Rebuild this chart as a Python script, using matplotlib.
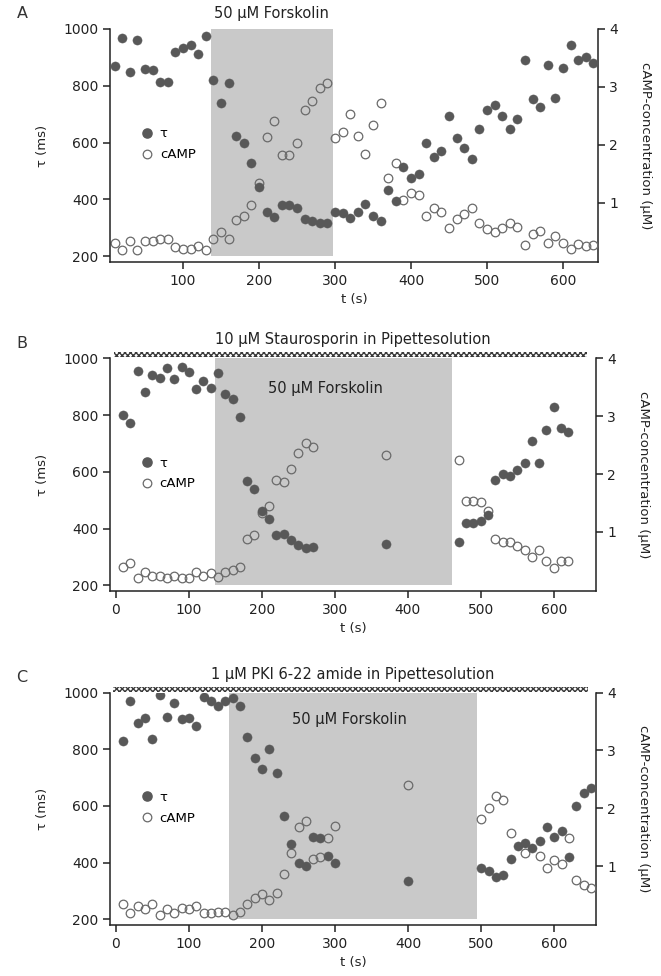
import numpy as np
import matplotlib
matplotlib.use("Agg")
import matplotlib.pyplot as plt
from matplotlib.patches import Rectangle
from matplotlib.lines import Line2D

plt.rcParams['font.family'] = ['DejaVu Sans']

# ---------------- data ----------------
# Panel A
t_A = [10, 20, 30, 40, 50, 60, 70, 80, 90, 100, 110, 120, 130, 140, 150, 160, 170, 180, 190, 200,
       210, 220, 230, 240, 250, 260, 270, 280, 290, 300, 310, 320, 330, 340, 350, 360, 370, 380, 390, 400,
       410, 420, 430, 440, 450, 460, 470, 480, 490, 500, 510, 520, 530, 540, 550, 560, 570, 580, 590, 600,
       610, 620, 630, 640]
tau_A = [868, 968, 848, 962, 860, 855, 815, 815, 919, 933, 945, 912, 974, 819, 739, 809, 625, 600, 530, 443,
         357, 340, 381, 381, 370, 330, 325, 316, 316, 357, 354, 333, 357, 384, 341, 325, 435, 394, 513, 476,
         488, 600, 548, 571, 695, 615, 582, 542, 648, 715, 733, 692, 648, 684, 892, 754, 725, 872, 756, 862,
         945, 892, 901, 882]
camp_A = [0.30, 0.18, 0.34, 0.18, 0.34, 0.34, 0.38, 0.38, 0.23, 0.20, 0.20, 0.26, 0.18, 0.38, 0.49, 0.38, 0.71, 0.78, 0.97, 1.34,
          2.14, 2.41, 1.82, 1.82, 2.03, 2.61, 2.76, 2.99, 3.06, 2.12, 2.23, 2.53, 2.15, 1.85, 2.34, 2.72, 1.43, 1.68, 1.05, 1.17,
          1.13, 0.78, 0.91, 0.84, 0.56, 0.72, 0.81, 0.91, 0.66, 0.55, 0.49, 0.56, 0.66, 0.59, 0.27, 0.46, 0.51, 0.30, 0.43, 0.31,
          0.20, 0.29, 0.26, 0.27]

# Panel B
t_B = [10, 20, 30, 40, 50, 60, 70, 80, 90, 100, 110, 120, 130, 140, 150, 160, 170, 180, 190, 200,
       210, 220, 230, 240, 250, 260, 270, 370, 470, 480, 490, 500, 510, 520, 530, 540, 550, 560, 570, 580,
       590, 600, 610, 620]
tau_B = [800, 771, 956, 880, 941, 929, 967, 927, 971, 953, 891, 921, 896, 949, 874, 856, 794, 567, 541, 462,
         432, 376, 382, 361, 341, 332, 335, 347, 353, 418, 418, 426, 449, 571, 592, 585, 608, 632, 709, 632,
         747, 829, 756, 741]
camp_B = [0.40, 0.46, 0.20, 0.30, 0.23, 0.24, 0.20, 0.24, 0.20, 0.20, 0.30, 0.23, 0.29, 0.22, 0.30, 0.35, 0.40, 0.88, 0.95, 1.33,
          1.45, 1.89, 1.86, 2.09, 2.36, 2.53, 2.46, 2.33, 2.24, 1.54, 1.54, 1.52, 1.37, 0.87, 0.82, 0.82, 0.76, 0.69, 0.56, 0.69,
          0.49, 0.38, 0.49, 0.49]

# Panel C
t_C = [10, 20, 30, 40, 50, 60, 70, 80, 90, 100, 110, 120, 130, 140, 150, 160, 170, 180, 190, 200,
       210, 220, 230, 240, 250, 260, 270, 280, 290, 300, 400, 500, 510, 520, 530, 540, 550, 560, 570, 580,
       590, 600, 610, 620, 630, 640, 650]
tau_C = [831, 971, 892, 912, 836, 992, 913, 965, 906, 912, 882, 984, 971, 953, 971, 980, 954, 845, 771, 731,
         800, 715, 565, 466, 400, 388, 489, 486, 424, 400, 335, 380, 372, 351, 356, 413, 459, 468, 453, 476,
         527, 489, 513, 421, 601, 647, 665]
camp_C = [0.35, 0.19, 0.30, 0.26, 0.34, 0.16, 0.25, 0.19, 0.27, 0.25, 0.30, 0.18, 0.18, 0.20, 0.20, 0.16, 0.20, 0.34, 0.45, 0.51,
          0.41, 0.53, 0.86, 1.22, 1.67, 1.78, 1.13, 1.16, 1.48, 1.69, 2.40, 1.82, 2.01, 2.21, 2.14, 1.57, np.nan, 1.23, np.nan, 1.17,
          0.97, 1.11, 1.03, 1.48, 0.75, 0.67, 0.62]

# stimulus periods (Forskolin) and pipette-solution bars
forsk_A = [137, 297]
forsk_B = [136, 460]
forsk_C = [155, 494]
pip_B = [-2, 646]
pip_C = [-4, 646]

titles = ["50 \u03bcM Forskolin",
          "10 \u03bcM Staurosporin in Pipettesolution",
          "1 \u03bcM PKI 6-22 amide in Pipettesolution"]
forsk_label = "50 \u03bcM Forskolin"
letters = ["A", "B", "C"]

# ---------------- style ----------------
FILL = '#585858'
OPEN = '#6a6a6a'
SHADE = '#c9c9c9'
AXC = '#222222'
FS = 10

fig = plt.figure(figsize=(6.61, 9.76), dpi=100)

positions = [[0.1664, 0.7316, 0.7383, 0.2387],
             [0.1664, 0.3945, 0.7353, 0.2384],
             [0.1664, 0.0523, 0.7353, 0.2380]]
xlims = [(4, 646), (-8, 658), (-8, 657)]
ylim_tau = (180, 1000)
ylim_camp = (-0.02, 4.0)
TITLE_Y = 1.065

panels = [(t_A, tau_A, camp_A, forsk_A, None),
          (t_B, tau_B, camp_B, forsk_B, pip_B),
          (t_C, tau_C, camp_C, forsk_C, pip_C)]

for i, (t, tau, camp, forsk, pip) in enumerate(panels):
    ax = fig.add_axes(positions[i])
    ax2 = ax.twinx()
    ax.set_zorder(2)
    ax.patch.set_visible(False)
    ax2.set_zorder(1)

    ax.set_xlim(*xlims[i])
    ax.set_ylim(*ylim_tau)
    ax2.set_ylim(*ylim_camp)

    # shaded Forskolin period (from 200 ms to top)
    ymin_frac = (200 - ylim_tau[0]) / (ylim_tau[1] - ylim_tau[0])
    ax2.axvspan(forsk[0], forsk[1], ymin=ymin_frac, ymax=1.0, facecolor=SHADE,
                edgecolor='none', zorder=0)

    # data
    ax2.plot(t, camp, linestyle='none', marker='o', markersize=6.2,
             markerfacecolor='none', markeredgecolor=OPEN, markeredgewidth=0.9, zorder=3)
    ax.plot(t, tau, linestyle='none', marker='o', markersize=6.6,
            markerfacecolor=FILL, markeredgecolor=FILL, markeredgewidth=0.3, zorder=4)

    # spines
    for s in ['top', 'right']:
        ax.spines[s].set_visible(False)
    for s in ['top', 'left', 'bottom']:
        ax2.spines[s].set_visible(False)
    for s in ['left', 'bottom']:
        ax.spines[s].set_color(AXC)
        ax.spines[s].set_linewidth(1.1)
    ax2.spines['right'].set_color(AXC)
    ax2.spines['right'].set_linewidth(1.1)

    ax.set_yticks([200, 400, 600, 800, 1000])
    ax2.set_yticks([1, 2, 3, 4])
    ax.set_xticks([0, 100, 200, 300, 400, 500, 600])
    ax.tick_params(axis='both', direction='out', length=5, width=1.1, color=AXC,
                   labelsize=FS, colors='#222222')
    ax2.tick_params(axis='y', direction='out', length=5, width=1.1, color=AXC,
                    labelsize=FS, colors='#222222', pad=3)
    ax.set_xlim(*xlims[i])

    ax.set_ylabel("\u03c4 (ms)", fontsize=9.5, color='#222222')
    ax.yaxis.set_label_coords(-0.125, 0.5)
    ax2.set_ylabel("cAMP-concentration (\u03bcM)", fontsize=9.5, rotation=-90,
                   va='center', color='#222222')
    ax2.yaxis.set_label_coords(1.098, 0.5)
    ax.set_xlabel("t (s)", fontsize=9.5, color='#222222')
    ax.xaxis.set_label_coords(0.5, -0.135)

    # legend
    h1 = Line2D([], [], linestyle='none', marker='o', markersize=6.6,
                markerfacecolor=FILL, markeredgecolor=FILL)
    h2 = Line2D([], [], linestyle='none', marker='o', markersize=6.2,
                markerfacecolor='none', markeredgecolor=OPEN, markeredgewidth=0.9)
    ax.legend([h1, h2], ["\u03c4", "cAMP"], loc='center left',
              bbox_to_anchor=(0.048, 0.505), frameon=False, fontsize=9.5,
              handletextpad=0.4, labelspacing=0.6, handlelength=1.2,
              borderaxespad=0)

    # letters and titles
    fig.text(0.025, positions[i][1] + TITLE_Y * positions[i][3], letters[i],
             fontsize=11.5, color='#333333', va='center')
    if i == 0:
        ax.text((forsk[0] + forsk[1]) / 2, TITLE_Y, titles[0], transform=ax.get_xaxis_transform(),
                ha='center', va='center', fontsize=10.5, color='#222222')
    else:
        ax.text(0.5, TITLE_Y + 0.015, titles[i], transform=ax.transAxes, ha='center', va='center',
                fontsize=10.5, color='#222222')
        # pipette solution bar
        bar = Rectangle((pip[0], 1004), pip[1] - pip[0], 17, transform=ax.transData,
                        facecolor='white', edgecolor='#3a3a3a', hatch='xxxxxx',
                        linewidth=0, clip_on=False, zorder=5)
        ax.add_patch(bar)
        lab_y = 895 if i == 1 else 907
        lab_x = 208 if i == 1 else 241
        ax.text(lab_x, lab_y, forsk_label, ha='left', va='center', fontsize=10.5,
                color='#222222', zorder=6)

fig.savefig("out.png", dpi=100)
